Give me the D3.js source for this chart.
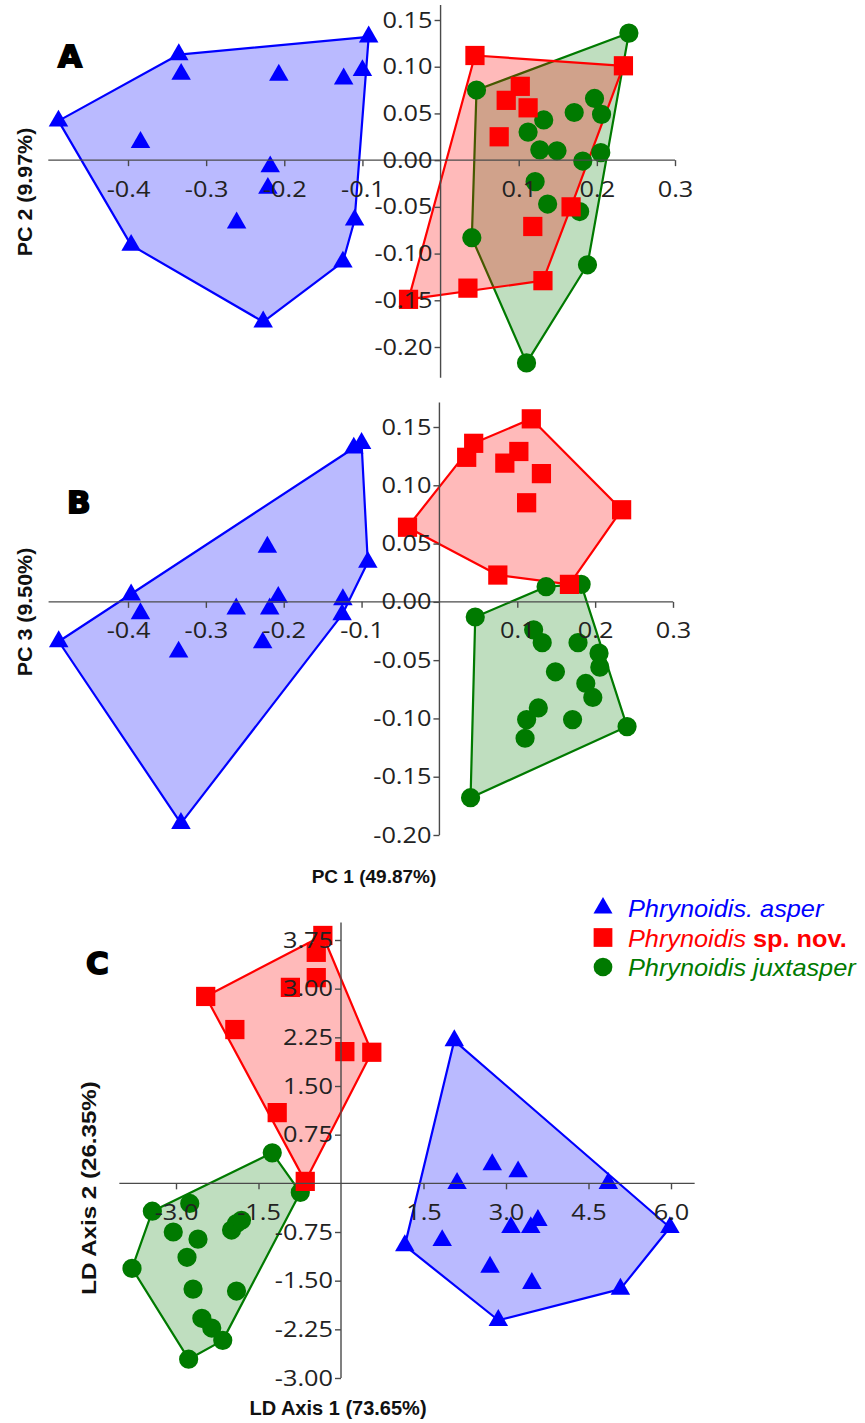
<!DOCTYPE html>
<html>
<head>
<meta charset="utf-8">
<script src="https://cdn.jsdelivr.net/npm/d3@7"></script>
<style>
  body { margin: 0; background: #fff; }
  svg { display: block; background: #fff; }
</style>
</head>
<body>
<svg id="grafico" width="865" height="1423"></svg>
<script>
// PCA scores per specimen (PC1, PC2, PC3)
const asperPC1 = [-0.489, -0.396, -0.384, -0.335, -0.332, -0.261, -0.227, -0.221, -0.218, -0.207, -0.125, -0.124, -0.110, -0.100, -0.092];
const asperPC2 = [0.042, -0.091, 0.019, 0.113, 0.092, -0.067, -0.173, -0.030, -0.007, 0.091, -0.109, 0.087, -0.064, 0.096, 0.132];
const asperPC3 = [-0.034, 0.006, -0.010, -0.043, -0.190, -0.006, -0.035, 0.047, -0.006, 0.004, -0.011, 0.002, 0.132, 0.136, 0.034];

const novPC1 = [-0.041, 0.035, 0.044, 0.075, 0.084, 0.102, 0.112, 0.118, 0.131, 0.167, 0.234];
const novPC2 = [-0.149, -0.137, 0.112, 0.025, 0.064, 0.079, 0.056, -0.071, -0.129, -0.050, 0.101];
const novPC3 = [0.064, 0.124, 0.136, 0.023, 0.119, 0.129, 0.085, 0.157, 0.110, 0.015, 0.079];

const juxPC1 = [0.040, 0.046, 0.110, 0.112, 0.121, 0.127, 0.132, 0.137, 0.149, 0.171, 0.178, 0.182, 0.188, 0.197, 0.205, 0.206, 0.241];
const juxPC2 = [-0.083, 0.075, -0.217, 0.030, -0.023, 0.011, 0.043, -0.047, 0.010, 0.051, -0.055, -0.001, -0.112, 0.066, 0.008, 0.049, 0.136];
const juxPC3 = [-0.168, -0.013, -0.117, -0.101, -0.024, -0.091, -0.035, 0.013, -0.060, -0.101, -0.035, 0.015, -0.070, -0.082, -0.044, -0.056, -0.107];

// LDA scores (LD1, LD2)
const asperLD1 = [2.06, 2.75, 3.22, 2.11, 4.86, 5.98, 3.58, 3.45, 3.09, 1.84, 1.16, 2.71, 3.47, 5.08, 2.86];
const asperLD2 = [2.20, 0.29, 0.18, 0.00, 0.00, -0.68, -0.57, -0.68, -0.68, -0.88, -0.96, -1.29, -1.54, -1.63, -2.11];
const novLD1 = [-0.33, -0.45, -0.45, -0.92, -2.46, -1.93, 0.07, 0.56, -1.16, -0.65];
const novLD2 = [3.82, 3.56, 3.17, 3.02, 2.88, 2.37, 2.03, 2.02, 1.09, 0.03];
const juxLD1 = [-1.25, -0.74, -3.43, -2.75, -3.05, -2.60, -1.99, -1.90, -1.81, -2.80, -3.80, -2.69, -1.90, -2.53, -2.35, -2.15, -2.77];
const juxLD2 = [0.47, -0.14, -0.43, -0.31, -0.75, -0.86, -0.72, -0.62, -0.57, -1.14, -1.31, -1.63, -1.66, -2.08, -2.23, -2.42, -2.71];

// ticks
const pcXTicks = [-0.4, -0.3, -0.2, -0.1, 0.1, 0.2, 0.3];
const pcYTicks = [0.15, 0.10, 0.05, 0.00, -0.05, -0.10, -0.15, -0.20];
const ldXTicks = [-3.0, -1.5, 1.5, 3.0, 4.5, 6.0];
const ldYTicks = [3.75, 3.00, 2.25, 1.50, 0.75, -0.75, -1.50, -2.25, -3.00];

const legendLabels = ["Phrynoidis. asper", "Phrynoidis", "Phrynoidis juxtasper"];

const BLUE = "#0000ff", RED = "#ff0000", GREEN = "#007a00";
const species = {
  asper: {color: BLUE, fill: "rgba(0,0,255,0.27)", sym: d3.symbolTriangle, size: 165},
  jux:   {color: GREEN, fill: "rgba(0,122,0,0.25)", sym: d3.symbolCircle, size: 290},
  nov:   {color: RED, fill: "rgba(255,0,0,0.27)", sym: d3.symbolSquare, size: 370}
};

const svg = d3.select("#grafico");
const tickFont = "'Open Sans', 'Noto Sans', sans-serif";
const boldFont = "'Liberation Sans', Arial, sans-serif";

function panel(cfg) {
  const g = svg.append("g");
  const x = d3.scaleLinear().domain(cfg.xDom).range(cfg.xRange);
  const y = d3.scaleLinear().domain(cfg.yDom).range(cfg.yRange);

  const sets = {
    asper: d3.zip(cfg.asper[0], cfg.asper[1]),
    nov: d3.zip(cfg.nov[0], cfg.nov[1]),
    jux: d3.zip(cfg.jux[0], cfg.jux[1])
  };

  // hulls: blue, green, red (red on top)
  ["asper", "jux", "nov"].forEach(k => {
    const hull = d3.polygonHull(sets[k].map(d => [x(d[0]), y(d[1])]));
    g.append("path")
      .attr("d", "M" + hull.join("L") + "Z")
      .attr("fill", species[k].fill)
      .attr("stroke", species[k].color)
      .attr("stroke-width", 2.2)
      .attr("stroke-linejoin", "round");
  });

  ["asper", "jux", "nov"].forEach(k => {
    g.append("g").selectAll("path")
      .data(sets[k])
      .join("path")
      .attr("transform", d => `translate(${x(d[0])},${y(d[1])})`)
      .attr("d", d3.symbol().type(species[k].sym).size(species[k].size))
      .attr("fill", species[k].color);
  });

  // axes crossing at zero
  const axisColor = "#4a4a4a";
  g.append("line")
    .attr("x1", x(cfg.xExt[0])).attr("x2", x(cfg.xExt[1]))
    .attr("y1", y(0)).attr("y2", y(0))
    .attr("stroke", axisColor).attr("stroke-width", 1.4);
  g.append("line")
    .attr("x1", x(0)).attr("x2", x(0))
    .attr("y1", y(cfg.yExt[0])).attr("y2", y(cfg.yExt[1]))
    .attr("stroke", axisColor).attr("stroke-width", 1.4);

  const gx = g.append("g")
    .attr("transform", `translate(0,${y(0)})`)
    .call(d3.axisBottom(x).tickValues(cfg.xTicks).tickSize(6).tickSizeOuter(0)
      .tickPadding(15).tickFormat(d => d.toFixed(cfg.xDec)));
  const gy = g.append("g")
    .attr("transform", `translate(${x(0)},0)`)
    .call(d3.axisLeft(y).tickValues(cfg.yTicks).tickSize(6).tickSizeOuter(0)
      .tickPadding(1).tickFormat(d => d.toFixed(2)));

  [gx, gy].forEach(a => {
    a.select(".domain").remove();
    a.selectAll(".tick line").attr("stroke", axisColor).attr("stroke-width", 1.4);
    a.selectAll(".tick text")
      .attr("fill", "#222")
      .style("font-family", tickFont)
      .style("font-size", "22px")
      .attr("transform", "scale(1.15,1)");
  });

  // panel letter
  g.append("text")
    .attr("x", cfg.letter[1]).attr("y", cfg.letter[2])
    .text(cfg.letter[0])
    .style("font-family", "'DejaVu Sans', sans-serif")
    .style("font-weight", "bold")
    .style("font-size", "31px")
    .attr("fill", "#000").attr("stroke", "#000").attr("stroke-width", 1.8);

  // y title
  g.append("text")
    .attr("transform", `translate(${cfg.yTitle[1]},${cfg.yTitle[2]}) rotate(-90) scale(${cfg.yTitle[3]},1)`)
    .attr("text-anchor", "middle")
    .style("font-family", boldFont)
    .style("font-weight", "bold")
    .style("font-size", "21px")
    .attr("fill", "#111")
    .text(cfg.yTitle[0]);
}

panel({
  xDom: [-0.4, 0.3], xRange: [128, 675], yDom: [0.15, -0.20], yRange: [20, 347],
  xExt: [-0.502, 0.3], yExt: [0.166, -0.233],
  xTicks: pcXTicks, yTicks: pcYTicks, xDec: 1,
  asper: [asperPC1, asperPC2], nov: [novPC1, novPC2], jux: [juxPC1, juxPC2],
  letter: ["A", 58, 67], yTitle: ["PC 2 (9.97%)", 32, 192, 1.02]
});

panel({
  xDom: [-0.4, 0.3], xRange: [128, 673], yDom: [0.15, -0.20], yRange: [427, 835],
  xExt: [-0.502, 0.3], yExt: [0.171, -0.20],
  xTicks: pcXTicks, yTicks: pcYTicks, xDec: 1,
  asper: [asperPC1, asperPC3], nov: [novPC1, novPC3], jux: [juxPC1, juxPC3],
  letter: ["B", 67, 513], yTitle: ["PC 3 (9.50%)", 32, 612, 1.02]
});

panel({
  xDom: [-3, 6], xRange: [176, 671], yDom: [3.75, -3], yRange: [940, 1378],
  xExt: [-4.03, 6.43], yExt: [4.02, -3],
  xTicks: ldXTicks, yTicks: ldYTicks, xDec: 1,
  asper: [asperLD1, asperLD2], nov: [novLD1, novLD2], jux: [juxLD1, juxLD2],
  letter: ["C", 86, 974], yTitle: ["LD Axis 2 (26.35%)", 96, 1188, 1.15]
});

// x titles
svg.append("text")
  .attr("x", 374).attr("y", 883).attr("text-anchor", "middle")
  .style("font-family", boldFont).style("font-weight", "bold").style("font-size", "19px")
  .attr("fill", "#111").text("PC 1 (49.87%)");
svg.append("text")
  .attr("x", 338).attr("y", 1415).attr("text-anchor", "middle")
  .style("font-family", boldFont).style("font-weight", "bold").style("font-size", "20px")
  .attr("fill", "#111").text("LD Axis 1 (73.65%)");

// legend
const legend = svg.append("g").attr("transform", "translate(603,908)");
const legendKeys = ["asper", "nov", "jux"];
legendKeys.forEach((k, i) => {
  const row = legend.append("g").attr("transform", `translate(0,${i * 29.5})`);
  row.append("path")
    .attr("d", d3.symbol().type(species[k].sym).size(species[k].size * 0.95))
    .attr("fill", species[k].color);
  const t = row.append("text")
    .attr("transform", "translate(25,9) scale(1.1,1)")
    .style("font-family", boldFont)
    .style("font-size", "23px")
    .attr("fill", species[k].color);
  t.append("tspan").style("font-style", "italic").text(legendLabels[i]);
  if (k === "nov") t.append("tspan").style("font-weight", "bold").text(" sp. nov.");
});
</script>
</body>
</html>
